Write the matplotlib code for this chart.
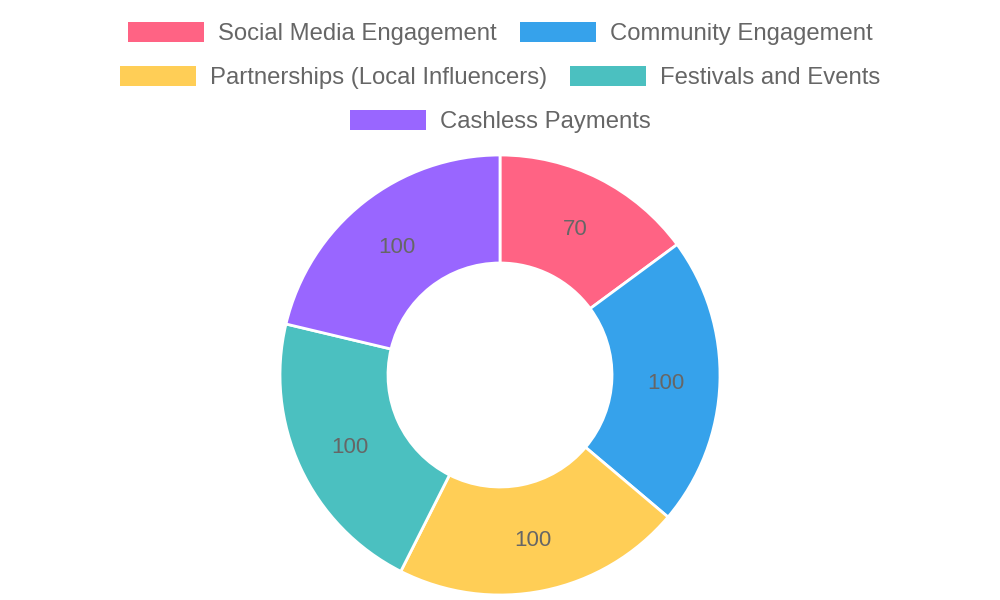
import matplotlib
matplotlib.use("Agg")
import matplotlib.pyplot as plt
from matplotlib.patches import Rectangle

# data
labels = ["Social Media Engagement", "Community Engagement",
          "Partnerships (Local Influencers)", "Festivals and Events",
          "Cashless Payments"]
values = [70, 100, 100, 100, 100]
colors = ["#FF6384", "#36A2EB", "#FFCE56", "#4BC0C0", "#9966FF"]
legend_rows = [[0, 1], [2, 3], [4]]

plt.rcParams['font.family'] = ['Liberation Sans', 'DejaVu Sans']
text_color = "#666666"

fig = plt.figure(figsize=(10, 6), dpi=100)
ax = fig.add_axes([0, 0, 1, 1])

total = sum(values)
wedges, texts, autotexts = ax.pie(
    values, colors=colors, center=(500, 225), radius=220,
    startangle=90, counterclock=False,
    wedgeprops=dict(width=108, edgecolor="white", linewidth=2),
    autopct=lambda p: f"{p * total / 100:.0f}", pctdistance=166 / 220,
    textprops=dict(color=text_color, fontsize=16))

# nudge value labels down a little to sit like the original
for t in autotexts:
    x, y = t.get_position()
    t.set_position((x, y - 3))

ax.set_xlim(0, 1000)
ax.set_ylim(0, 600)
ax.set_aspect("equal")
ax.axis("off")

# legend drawn by hand, rows centred like the chart library does it
renderer = fig.canvas.get_renderer()
box_w, box_h, pad, gap = 76, 20, 14, 23
row_y = [32, 76, 120]
for row, yc in zip(legend_rows, row_y):
    texts = []
    widths = []
    for i in row:
        t = ax.text(0, 600 - yc - 2, labels[i], fontsize=17.2,
                    color=text_color, va="center", ha="left")
        texts.append(t)
        widths.append(t.get_window_extent(renderer).width)
    full = sum(box_w + pad + w for w in widths) + gap * (len(row) - 1)
    x = 500 - full / 2
    for i, t, w in zip(row, texts, widths):
        ax.add_patch(Rectangle((x, 600 - yc - box_h / 2), box_w, box_h,
                               facecolor=colors[i], edgecolor="none"))
        t.set_x(x + box_w + pad)
        x += box_w + pad + w + gap

fig.savefig("out.png", dpi=100)
